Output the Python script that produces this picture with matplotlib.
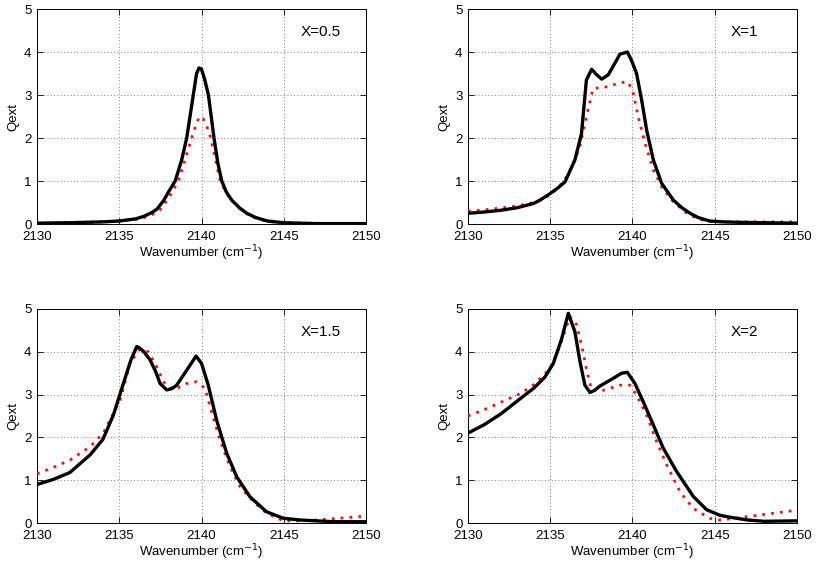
import matplotlib
matplotlib.use("Agg")
import matplotlib.pyplot as plt

plt.rcParams['font.family'] = ['Liberation Sans', 'DejaVu Sans']

# ---- data ----
labels = ["X=0.5", "X=1", "X=1.5", "X=2"]

x_a_black = [2130, 2132, 2134, 2135, 2136, 2136.5, 2137, 2137.3, 2137.7, 2138, 2138.4, 2138.8, 2139.1, 2139.5, 2139.7, 2139.85, 2140, 2140.2, 2140.42, 2140.76, 2141.0, 2141.23, 2141.5, 2141.83, 2142.3, 2142.75, 2143.3, 2144, 2145, 2147, 2150]
y_a_black = [0.02, 0.03, 0.05, 0.07, 0.12, 0.18, 0.27, 0.35, 0.55, 0.75, 1.0, 1.5, 2.0, 3.0, 3.5, 3.63, 3.6, 3.35, 3.0, 2.0, 1.4, 1.0, 0.75, 0.56, 0.38, 0.25, 0.15, 0.07, 0.03, 0.01, 0.01]
x_a_red = [2130, 2132, 2134, 2135, 2136, 2136.5, 2137, 2137.48, 2138, 2138.6, 2139, 2139.4, 2139.7, 2139.9, 2140.1, 2140.3, 2140.56, 2140.85, 2141.1, 2141.3, 2141.5, 2141.83, 2142.3, 2142.75, 2143.3, 2144, 2145, 2147, 2150]
y_a_red = [0.02, 0.03, 0.05, 0.07, 0.11, 0.15, 0.22, 0.33, 0.6, 1.0, 1.5, 2.0, 2.35, 2.5, 2.45, 2.3, 2.0, 1.5, 1.05, 0.88, 0.73, 0.55, 0.37, 0.24, 0.14, 0.06, 0.03, 0.01, 0.01]

x_b_black = [2130, 2131, 2132, 2133, 2134, 2134.4, 2135, 2135.5, 2135.9, 2136.5, 2136.9, 2137.2, 2137.52, 2137.8, 2138.13, 2138.53, 2138.9, 2139.24, 2139.69, 2139.95, 2140.25, 2140.56, 2140.86, 2141.27, 2141.77, 2142.48, 2143.0, 2143.5, 2144.0, 2144.7, 2145.5, 2146.5, 2148, 2150]
y_b_black = [0.25, 0.28, 0.32, 0.38, 0.48, 0.56, 0.71, 0.85, 0.98, 1.49, 2.1, 3.35, 3.6, 3.48, 3.37, 3.47, 3.72, 3.95, 4.0, 3.8, 3.5, 2.88, 2.19, 1.49, 0.95, 0.56, 0.38, 0.25, 0.15, 0.07, 0.05, 0.04, 0.03, 0.02]
x_b_red = [2130, 2131, 2132, 2133, 2134, 2134.4, 2135, 2135.5, 2136, 2136.4, 2136.8, 2137.3, 2137.6, 2138.0, 2138.43, 2138.8, 2139.24, 2139.75, 2140.05, 2140.35, 2140.76, 2141.27, 2141.8, 2142.48, 2143.2, 2143.9, 2144.5, 2145.5, 2147, 2150]
y_b_red = [0.3, 0.33, 0.37, 0.42, 0.5, 0.55, 0.68, 0.85, 1.1, 1.4, 1.8, 2.65, 3.15, 3.17, 3.19, 3.23, 3.29, 3.3, 3.04, 2.5, 1.88, 1.26, 0.85, 0.52, 0.28, 0.13, 0.07, 0.05, 0.05, 0.05]

x_c_black = [2130, 2131, 2132, 2133.22, 2134, 2134.64, 2135.25, 2135.7, 2136.06, 2136.2, 2136.5, 2136.87, 2137.2, 2137.48, 2137.88, 2138.2, 2138.49, 2139.1, 2139.67, 2140.0, 2140.41, 2140.92, 2141.53, 2142.14, 2142.95, 2143.96, 2144.98, 2146, 2147, 2148, 2150]
y_c_black = [0.9, 1.02, 1.18, 1.59, 1.95, 2.52, 3.26, 3.8, 4.12, 4.1, 4.0, 3.81, 3.55, 3.26, 3.11, 3.14, 3.22, 3.57, 3.9, 3.73, 3.22, 2.4, 1.63, 1.08, 0.61, 0.26, 0.11, 0.07, 0.05, 0.03, 0.03]
x_c_red = [2130, 2131, 2132, 2133.22, 2134.03, 2135.05, 2135.65, 2136.2, 2136.77, 2137.28, 2137.68, 2138.29, 2139.1, 2139.7, 2140.21, 2140.52, 2141.12, 2141.73, 2142.34, 2143.15, 2143.96, 2144.98, 2146, 2147, 2148, 2149, 2150]
y_c_red = [1.15, 1.3, 1.47, 1.78, 2.1, 2.87, 3.73, 4.05, 4.0, 3.65, 3.3, 3.11, 3.26, 3.3, 3.15, 2.72, 1.94, 1.32, 0.85, 0.5, 0.23, 0.05, 0.05, 0.07, 0.1, 0.13, 0.16]

x_d_black = [2130, 2131, 2132, 2133.16, 2134, 2134.68, 2135.19, 2135.7, 2136.1, 2136.5, 2136.81, 2137.11, 2137.42, 2137.7, 2138.02, 2138.83, 2139.34, 2139.69, 2140.15, 2140.66, 2141.27, 2141.87, 2142.69, 2143.7, 2144.51, 2145.32, 2146, 2147, 2148, 2150]
y_d_black = [2.1, 2.3, 2.55, 2.9, 3.15, 3.41, 3.73, 4.31, 4.9, 4.47, 3.77, 3.22, 3.05, 3.1, 3.2, 3.38, 3.5, 3.52, 3.26, 2.83, 2.29, 1.75, 1.2, 0.62, 0.31, 0.18, 0.13, 0.07, 0.04, 0.05]
x_d_red = [2130, 2131, 2132, 2133.16, 2133.97, 2134.98, 2135.6, 2136.2, 2136.61, 2136.91, 2137.22, 2137.52, 2138.23, 2139.24, 2139.85, 2140.25, 2140.86, 2141.47, 2142.08, 2142.89, 2143.7, 2144.7, 2145.3, 2146, 2147, 2148, 2149, 2150]
y_d_red = [2.5, 2.65, 2.82, 3.02, 3.22, 3.6, 4.15, 4.82, 4.63, 4.15, 3.57, 3.1, 3.1, 3.22, 3.22, 2.99, 2.52, 1.9, 1.36, 0.73, 0.34, 0.11, 0.07, 0.1, 0.15, 0.2, 0.25, 0.3]

series = [
    (x_a_black, y_a_black, x_a_red, y_a_red),
    (x_b_black, y_b_black, x_b_red, y_b_red),
    (x_c_black, y_c_black, x_c_red, y_c_red),
    (x_d_black, y_d_black, x_d_red, y_d_red),
]

xticks = [2130, 2135, 2140, 2145, 2150]
yticks = [0, 1, 2, 3, 4, 5]

fig = plt.figure(figsize=(8.21, 5.86), dpi=100)
positions = [
    [0.0451, 0.6177, 0.4007, 0.3669],
    [0.5700, 0.6177, 0.4007, 0.3669],
    [0.0451, 0.1075, 0.4007, 0.3652],
    [0.5700, 0.1075, 0.4007, 0.3652],
]

for pos, (xb, yb, xr, yr), lab in zip(positions, series, labels):
    ax = fig.add_axes(pos)
    ax.plot(xr, yr, color='#e8141c', linestyle=(0, (1, 2.2)), linewidth=2.0, zorder=3)
    ax.plot(xb, yb, color='black', linewidth=2.4, zorder=4,
            solid_joinstyle='round', solid_capstyle='round')
    ax.set_xlim(2130, 2150)
    ax.set_ylim(0, 5)
    ax.set_xticks(xticks)
    ax.set_yticks(yticks)
    ax.tick_params(direction='in', length=4, width=0.6, labelsize=9.5, top=True, right=True)
    ax.tick_params(axis='x', pad=5)
    ax.tick_params(axis='y', pad=4)
    ax.grid(True, color='#555555', linestyle=(0, (1, 3)), linewidth=0.6)
    for s in ax.spines.values():
        s.set_linewidth(0.7)
    ax.set_xlabel('Wavenumber (cm$^{-1}$)', fontsize=9.5, labelpad=0)
    ax.set_ylabel('Qext', fontsize=9.5, labelpad=3)
    ax.text(2146, 4.47, lab, fontsize=11, ha='left', va='center')

fig.savefig('out.png', dpi=100)
